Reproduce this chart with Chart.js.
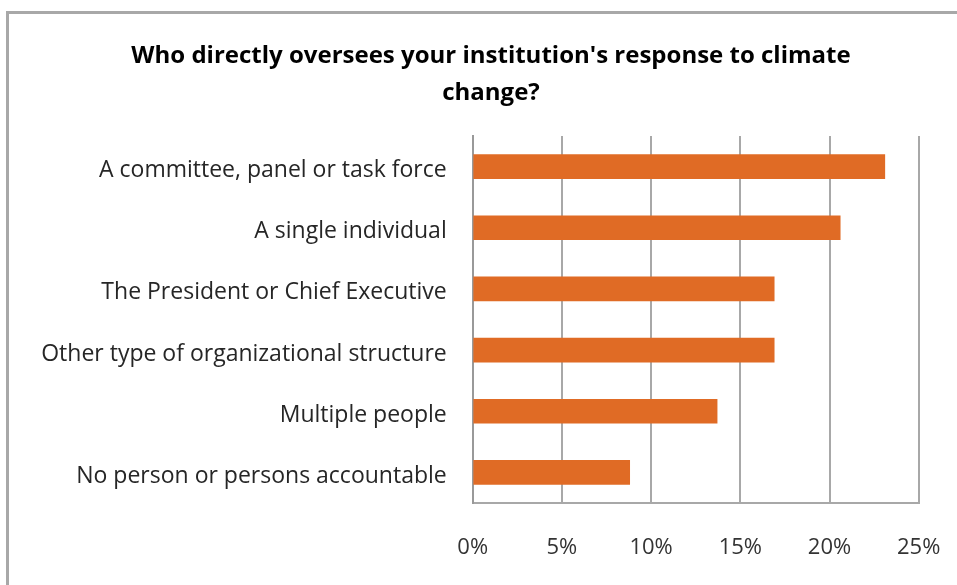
<!DOCTYPE html>
<html>
<head>
<meta charset="utf-8">
<script src="https://cdn.jsdelivr.net/npm/chart.js@4.4.1/dist/chart.umd.min.js"></script>
<style>
  html, body { margin: 0; padding: 0; background: #fff; overflow: hidden; }
  .frame {
    position: absolute; left: 6px; top: 11px; width: 1000px; height: 620px;
    border-left: 3px solid #a8a8a8; border-top: 3px solid #a8a8a8;
  }
  #wrap { position: absolute; left: 0; top: 0; width: 982px; height: 585px; }
</style>
</head>
<body>
<div class="frame"></div>
<div id="wrap"><canvas id="myChart"></canvas></div>
<script>
const categories = [
  'A committee, panel or task force',
  'A single individual',
  'The President or Chief Executive',
  'Other type of organizational structure',
  'Multiple people',
  'No person or persons accountable'
];
const shares = [23.1, 20.6, 16.9, 16.9, 13.7, 8.8];
const tickValues = [0, 5, 10, 15, 20, 25];

const ctx = document.getElementById('myChart');

const myChart = new Chart(ctx, {
  type: 'bar',
  data: {
    labels: categories,
    datasets: [{
      data: shares,
      backgroundColor: '#e06b25',
      barThickness: 24
    }]
  },
  options: {
    indexAxis: 'y',
    responsive: true,
    maintainAspectRatio: false,
    animation: false,
    layout: { padding: 0 },
    plugins: {
      legend: { display: false },
      tooltip: { enabled: false },
      title: {
        display: true,
        text: ["Who directly oversees your institution's response to climate", 'change?'],
        color: '#000',
        font: { family: 'Open Sans', size: 24, weight: 'bold', lineHeight: 1.55 },
        padding: { top: 37.4, bottom: 24.2 }
      }
    },
    scales: {
      x: {
        min: 0,
        max: 25,
        afterBuildTicks: (scale) => {
          scale.ticks = tickValues.map((v) => ({ value: v }));
        },
        afterFit: (scale) => {
          // fixed plot edges: right side room is reserved here, not by the label overhang
          scale.height = 82;
          scale.paddingLeft = 0;
          scale.paddingRight = 63.3;
        },
        ticks: {
          color: '#333',
          padding: 32,
          font: { family: 'Open Sans', size: 22 },
          callback: (v) => v + '%'
        },
        grid: { color: '#a8a8a8', lineWidth: 2, drawTicks: false },
        border: { color: '#a8a8a8', width: 2 }
      },
      y: {
        afterFit: (scale) => { scale.width = 472.7; },
        ticks: {
          color: '#262626',
          padding: 26,
          labelOffset: 4,
          font: { family: 'Open Sans', size: 23 }
        },
        grid: { display: false, drawTicks: false },
        border: { color: '#999', width: 2 }
      }
    }
  }
});
</script>
</body>
</html>
